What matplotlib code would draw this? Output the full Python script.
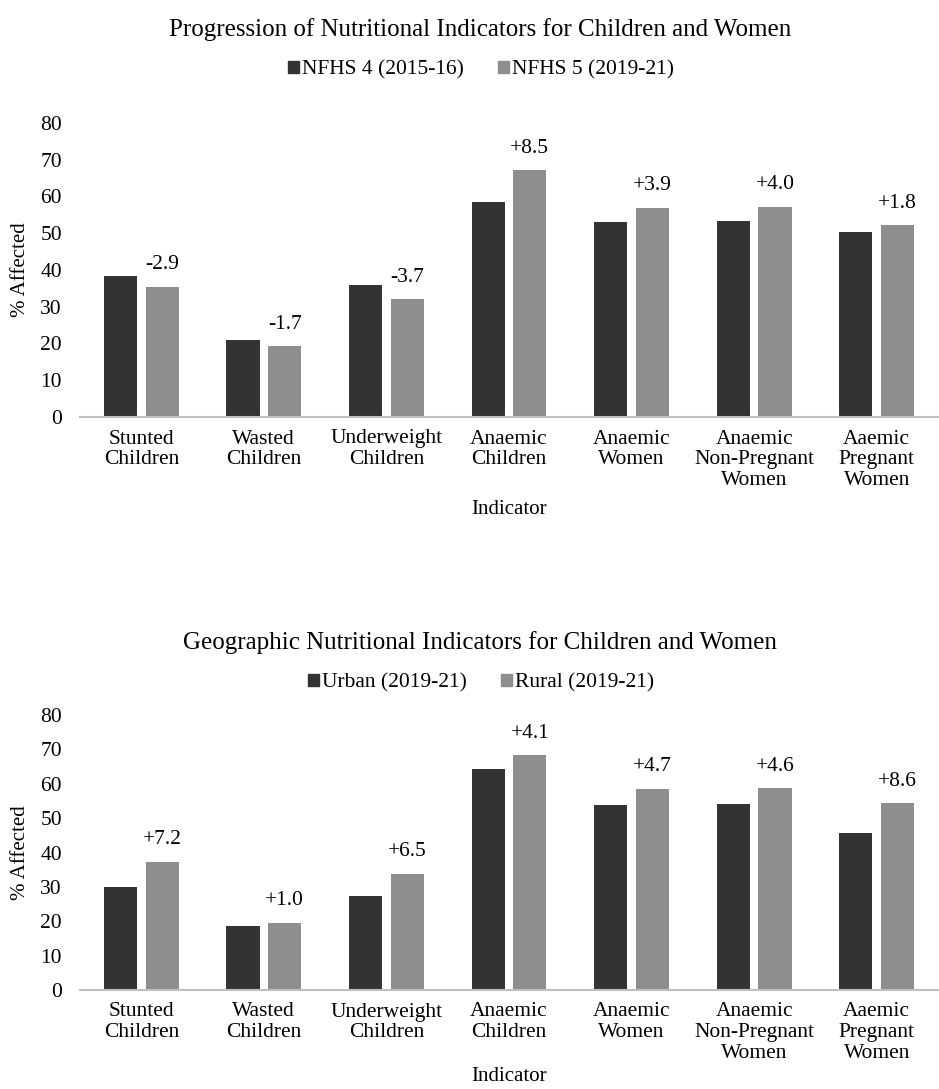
import numpy as np
import matplotlib
matplotlib.use("Agg")
import matplotlib.pyplot as plt
from matplotlib.patches import Patch


INDICATORS = [
    "Stunted\nChildren",
    "Wasted\nChildren",
    "Underweight\nChildren",
    "Anaemic\nChildren",
    "Anaemic\nWomen",
    "Anaemic\nNon-Pregnant\nWomen",
    "Aaemic\nPregnant\nWomen",
]

NFHS4 = [38.4, 21.0, 35.8, 58.6, 53.1, 53.2, 50.4]
NFHS5 = [35.5, 19.3, 32.1, 67.1, 57.0, 57.2, 52.2]

URBAN = [30.1, 18.5, 27.3, 64.2, 53.8, 54.1, 45.7]
RURAL = [37.3, 19.5, 33.8, 68.3, 58.5, 58.7, 54.3]

DARK = "#333333"
LIGHT = "#8e8e8e"

plt.rcParams["font.family"] = ["Liberation Serif", "DejaVu Serif"]

W, H = 939, 1089


def draw_panel(fig, rect, first, second, title, labels, title_y, legend_y, xpad):

    ax = fig.add_axes(rect)

    x = np.arange(len(INDICATORS))
    width = 0.27
    offset = 0.17

    ax.bar(x - offset, first, width, color=DARK)
    ax.bar(x + offset, second, width, color=LIGHT)

    # change from first to second series, written over the second bar
    for xi, a, b in zip(x, first, second):
        diff = round(b - a, 1)
        ax.annotate(
            f"{diff:+.1f}",
            xy=(xi + offset, b),
            xytext=(0, 9),
            textcoords="offset points",
            ha="center",
            va="bottom",
            fontsize=15.5,
            color="black",
        )

    ax.set_xlim(-0.5, len(INDICATORS) - 0.5)
    ax.set_ylim(0, 80)
    ax.set_yticks(range(0, 81, 10))
    ax.set_xticks(x)
    ax.set_xticklabels(INDICATORS, fontsize=15.5, linespacing=1.12)
    ax.tick_params(axis="y", labelsize=15.5, length=0, pad=13)
    ax.tick_params(axis="x", length=0, pad=9)

    for side in ["top", "right", "left"]:
        ax.spines[side].set_visible(False)
    ax.spines["bottom"].set_color("#c0c0c0")
    ax.spines["bottom"].set_linewidth(1.5)

    ax.set_ylabel("% Affected", fontsize=15, labelpad=7)
    ax.set_xlabel("Indicator", fontsize=15, labelpad=xpad)

    fig.text(480 / W, title_y, title, ha="center", va="center", fontsize=18)

    handles = [Patch(color=DARK), Patch(color=LIGHT)]
    fig.legend(
        handles,
        labels,
        loc="center",
        bbox_to_anchor=(481 / W, legend_y),
        ncol=2,
        frameon=False,
        fontsize=15.5,
        handlelength=0.5,
        handleheight=0.5,
        handletextpad=0.15,
        columnspacing=1.6,
    )

    return ax


def main():

    fig = plt.figure(figsize=(W / 100, H / 100), dpi=100)

    draw_panel(
        fig,
        [80 / W, 1 - 417 / H, 858 / W, 294 / H],
        NFHS4,
        NFHS5,
        "Progression of Nutritional Indicators for Children and Women",
        ["NFHS 4 (2015-16)", "NFHS 5 (2019-21)"],
        1 - 30 / H,
        1 - 70 / H,
        7,
    )

    draw_panel(
        fig,
        [80 / W, 1 - 990 / H, 858 / W, 275 / H],
        URBAN,
        RURAL,
        "Geographic Nutritional Indicators for Children and Women",
        ["Urban (2019-21)", "Rural (2019-21)"],
        1 - 643 / H,
        1 - 683 / H,
        3,
    )

    fig.savefig("out.png", dpi=100, facecolor="white")

    plt.close(fig)


if __name__ == "__main__":
    main()
